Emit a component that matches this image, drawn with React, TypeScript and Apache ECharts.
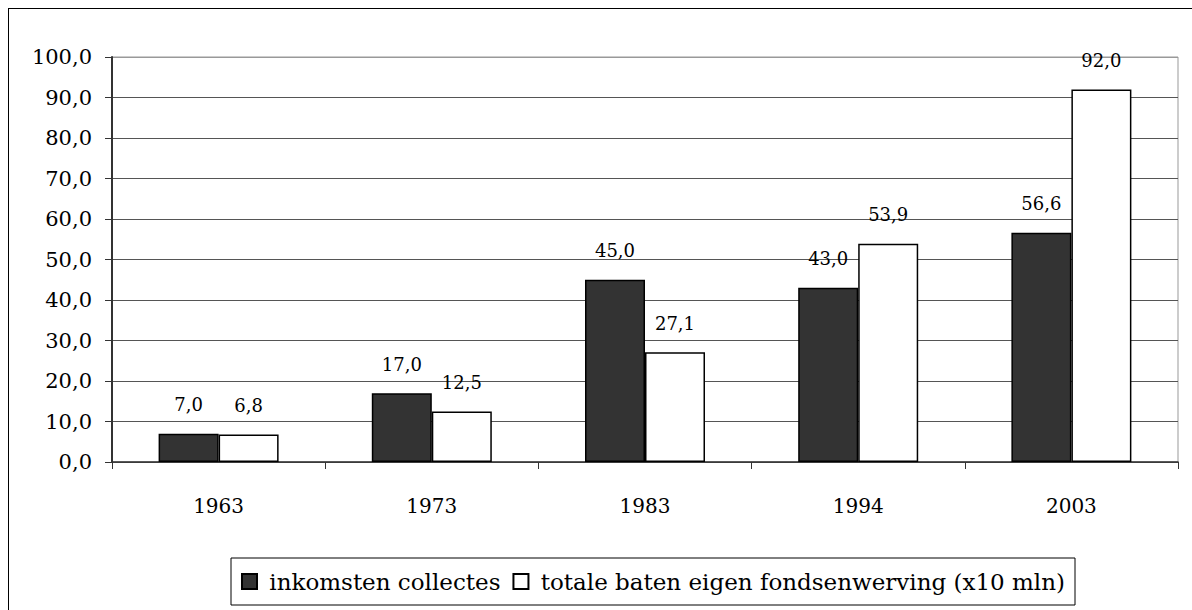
import React, { useEffect, useRef } from "react";
import * as echarts from "echarts";

const categories = ["1963", "1973", "1983", "1994", "2003"];
const seriesNames = ["inkomsten collectes", "totale baten eigen fondsenwerving (x10 mln)"];
const collectes = [7.0, 17.0, 45.0, 43.0, 56.6];
const totaleBaten = [6.8, 12.5, 27.1, 53.9, 92.0];
const yMin = 0;
const yMax = 100;
const yStep = 10;

const FONT = "'DejaVu Serif', 'Liberation Serif', serif";
const fmt = (v: number) => v.toFixed(1).replace(".", ",");

export default function App() {
  const ref = useRef<HTMLDivElement>(null);

  useEffect(() => {
    if (!ref.current) return;
    const chart = echarts.init(ref.current, undefined, { renderer: "svg" });
    const nLines = Math.round((yMax - yMin) / yStep) + 1;
    const splitColors = Array.from({ length: nLines }, (_, i) => (i === nLines - 1 ? "#999999" : "#555555"));
    const label = {
      show: true,
      position: "top",
      distance: 20,
      color: "#000",
      fontFamily: FONT,
      fontSize: 18,
      formatter: (p: any) => fmt(p.value),
    };
    chart.setOption({
      animation: false,
      backgroundColor: "transparent",
      grid: {
        left: 112,
        top: 57,
        width: 1066,
        height: 405,
        show: true,
        borderColor: "#999999",
        borderWidth: 1,
        backgroundColor: "transparent",
      },
      legend: {
        left: 231,
        top: 558,
        padding: [12, 10, 12, 10],
        borderColor: "#000",
        borderWidth: 1,
        backgroundColor: "#fff",
        itemWidth: 15,
        itemHeight: 15,
        itemGap: 12,
        icon: "rect",
        formatter: (name: string) => " " + name,
        textStyle: { fontFamily: FONT, fontSize: 23, color: "#000" },
        data: seriesNames,
      },
      xAxis: {
        type: "category",
        data: categories,
        boundaryGap: true,
        axisLine: { show: true, lineStyle: { color: "#333", width: 1.5 } },
        axisTick: { show: true, length: 7, alignWithLabel: false, lineStyle: { color: "#333", width: 1 } },
        axisLabel: { fontFamily: FONT, fontSize: 20, color: "#000", margin: 34 },
        splitLine: { show: false },
      },
      yAxis: {
        type: "value",
        min: yMin,
        max: yMax,
        interval: yStep,
        axisLine: { show: true, lineStyle: { color: "#333", width: 2 } },
        axisTick: { show: true, length: 7, lineStyle: { color: "#333", width: 1 } },
        axisLabel: { fontFamily: FONT, fontSize: 21, color: "#000", margin: 20, formatter: (v: number) => fmt(v) },
        splitLine: { show: true, lineStyle: { color: splitColors, width: 1 } },
      },
      series: [
        {
          name: seriesNames[0],
          type: "bar",
          data: collectes,
          barWidth: 60,
          barGap: "0%",
          itemStyle: { color: "#333333", borderColor: "#000", borderWidth: 1.5 },
          label,
        },
        {
          name: seriesNames[1],
          type: "bar",
          data: totaleBaten,
          barWidth: 60,
          barGap: "0%",
          itemStyle: { color: "#ffffff", borderColor: "#000", borderWidth: 1.5 },
          label,
        },
      ],
    });
    return () => chart.dispose();
  }, []);

  return (
    <div style={{ position: "fixed", left: 0, top: 0, width: 1192, height: 610, overflow: "hidden", background: "#fff" }}>
      <div
        style={{
          position: "absolute",
          left: 8,
          top: 8,
          width: 1220,
          height: 640,
          border: "1px solid #000",
          boxSizing: "border-box",
        }}
      />
      <div ref={ref} style={{ position: "absolute", left: 0, top: 0, width: 1192, height: 610 }} />
    </div>
  );
}
